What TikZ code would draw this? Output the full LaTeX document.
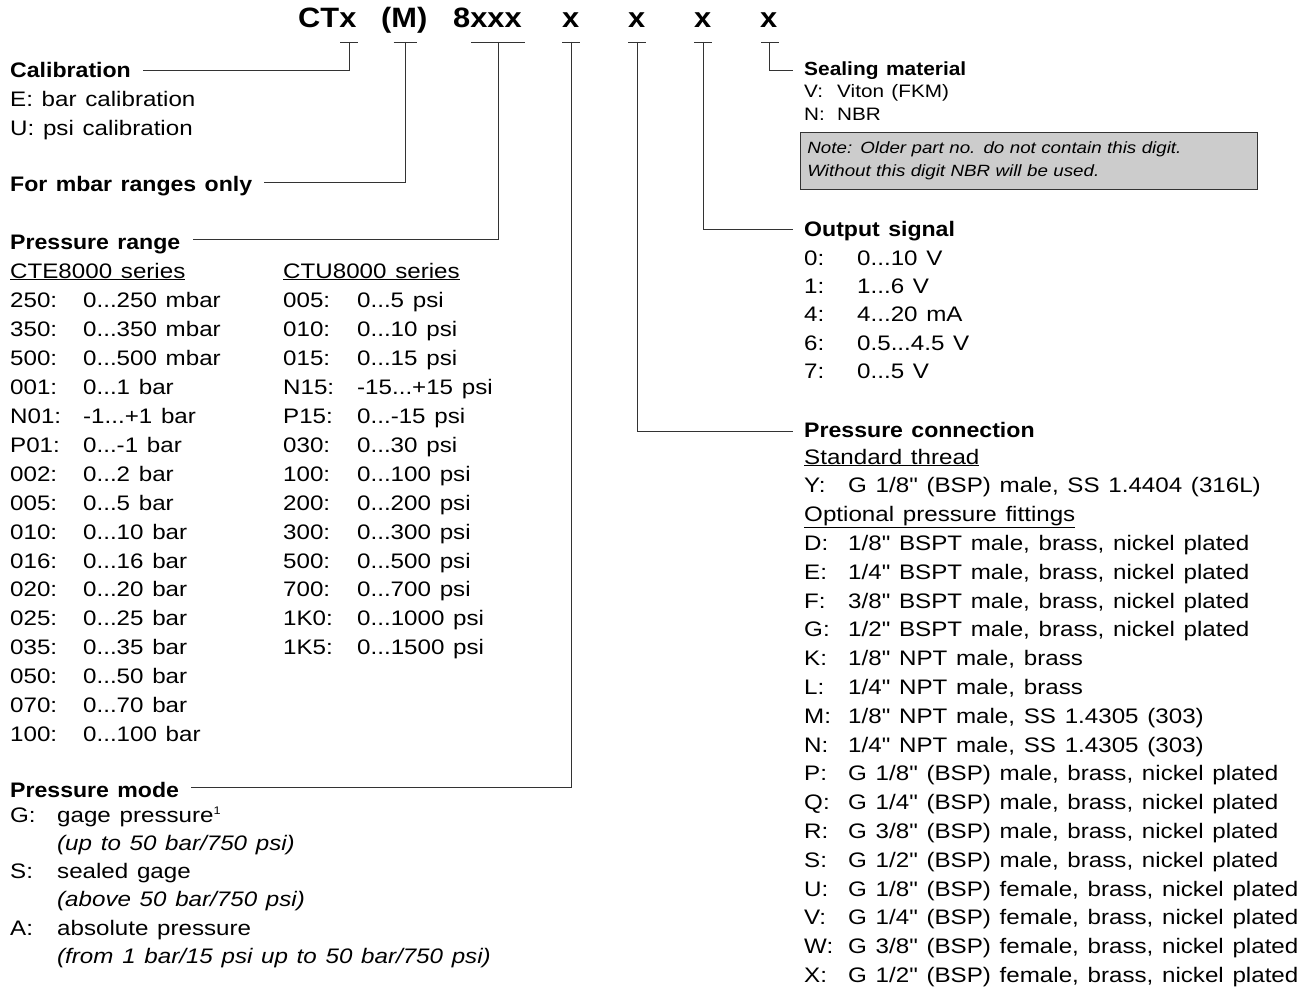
\documentclass[tikz,border=0pt]{standalone}
\usepackage{fontspec}
\setmainfont{Liberation Sans}[Ligatures=TeXOff, FakeStretch=1.15, WordSpace=1.3,
  BoldFeatures={FakeStretch=1.1}]
\usetikzlibrary{calc, positioning}

\tikzset{
  lead/.style={draw=black!80, line width=0.9pt},
  codehead/.style={font=\fontsize{28}{32}\selectfont\bfseries, inner sep=0pt, anchor=base west},
  heading/.style={font=\fontsize{21}{29}\selectfont\bfseries, inner sep=0pt, anchor=base west},
  body/.style={font=\fontsize{21}{28.9}\selectfont, inner sep=0pt, anchor=base west},
  smallhead/.style={font=\fontsize{19}{22}\selectfont\bfseries, inner sep=0pt, anchor=base west},
  smallbody/.style={font=\fontsize{18}{23}\selectfont, inner sep=0pt, anchor=base west},
  notebox/.style={draw=black!80, fill=black!20, line width=0.8pt, anchor=north west,
    font=\fontsize{16.3}{23}\selectfont\itshape, align=left, text width=443pt,
    minimum height=57pt, inner xsep=7pt, inner ysep=4pt},
}

\begin{document}
\begin{tikzpicture}[x=1pt, y=-1pt]
\useasboundingbox (0,0) rectangle (1305,987);

% Order code
\node[codehead] (cCT) at (298,28) {CTx};
\node[codehead] (cM) at (381,28) {(M)};
\node[codehead] (cRng) at (453,28) {8xxx};
\node[codehead] (cMod) at (562,28) {x};
\node[codehead] (cCon) at (628,28) {x};
\node[codehead] (cOut) at (694,28) {x};
\node[codehead] (cSea) at (760,28) {x};

% Tick points below the code
\coordinate (tCal) at (349,42);
\coordinate (tM) at (405,42);
\coordinate (tRng) at (498,42);
\coordinate (tMod) at (571,42);
\coordinate (tCon) at (637,42);
\coordinate (tOut) at (703,42);
\coordinate (tSea) at (769,42);

\draw[lead] ([xshift=-9pt]tCal) -- ([xshift=9pt]tCal);
\draw[lead] ([xshift=-11.5pt]tM) -- ([xshift=11.5pt]tM);
\draw[lead] ([xshift=-27pt]tRng) -- ([xshift=27pt]tRng);
\draw[lead] ([xshift=-9pt]tMod) -- ([xshift=9pt]tMod);
\draw[lead] ([xshift=-9pt]tCon) -- ([xshift=9pt]tCon);
\draw[lead] ([xshift=-9pt]tOut) -- ([xshift=9pt]tOut);
\draw[lead] ([xshift=-8pt]tSea) -- ([xshift=10pt]tSea);

% Left column
\node[heading] (calib) at (10,78) {Calibration};
\node[body] (calibList) at (10,107) {\begin{tabular}[t]{@{}l@{}}
E: bar calibration\\
U: psi calibration
\end{tabular}};

\node[heading] (mbar) at (10,192) {For mbar ranges only};

\node[heading] (range) at (10,249) {Pressure range};
\node[body] (cte) at (10,278) {\begin{tabular}[t]{@{}p{73pt}@{}l@{}}
\multicolumn{2}{@{}l@{}}{\underline{CTE8000 series}}\\[1pt]
250: & 0...250 mbar\\
350: & 0...350 mbar\\
500: & 0...500 mbar\\
001: & 0...1 bar\\
N01: & -1...+1 bar\\
P01: & 0...-1 bar\\
002: & 0...2 bar\\
005: & 0...5 bar\\
010: & 0...10 bar\\
016: & 0...16 bar\\
020: & 0...20 bar\\
025: & 0...25 bar\\
035: & 0...35 bar\\
050: & 0...50 bar\\
070: & 0...70 bar\\
100: & 0...100 bar
\end{tabular}};
\node[body] (ctu) at (283,278) {\begin{tabular}[t]{@{}p{74pt}@{}l@{}}
\multicolumn{2}{@{}l@{}}{\underline{CTU8000 series}}\\[1pt]
005: & 0...5 psi\\
010: & 0...10 psi\\
015: & 0...15 psi\\
N15: & -15...+15 psi\\
P15: & 0...-15 psi\\
030: & 0...30 psi\\
100: & 0...100 psi\\
200: & 0...200 psi\\
300: & 0...300 psi\\
500: & 0...500 psi\\
700: & 0...700 psi\\
1K0: & 0...1000 psi\\
1K5: & 0...1500 psi
\end{tabular}};

\node[heading] (mode) at (10,797) {Pressure mode};
\node[body, font=\fontsize{21}{28.3}\selectfont] (modeList) at (10,822) {\begin{tabular}[t]{@{}p{47pt}@{}l@{}}
G: & gage pressure\textsuperscript{\fontsize{11}{11}\selectfont 1}\\
 & \textit{(up to 50 bar/750 psi)}\\
S: & sealed gage\\
 & \textit{(above 50 bar/750 psi)}\\
A: & absolute pressure\\
 & \textit{(from 1 bar/15 psi up to 50 bar/750 psi)}
\end{tabular}};

% Right column
\node[smallhead] (seal) at (804,76) {Sealing material};
\node[smallbody] (sealList) at (804,98) {\begin{tabular}[t]{@{}p{33pt}@{}l@{}}
V: & Viton (FKM)\\
N: & NBR
\end{tabular}};
\node[notebox] (note) at (800,132) {Note: Older part no. do not contain this digit.\\
Without this digit NBR will be used.};

\node[heading] (out) at (804,236) {Output signal};
\node[body, font=\fontsize{21}{28.4}\selectfont] (outList) at (804,265) {\begin{tabular}[t]{@{}p{53pt}@{}l@{}}
0: & 0...10 V\\
1: & 1...6 V\\
4: & 4...20 mA\\
6: & 0.5...4.5 V\\
7: & 0...5 V
\end{tabular}};

\node[heading] (conn) at (804,437) {Pressure connection};
\node[body, font=\fontsize{21}{28.8}\selectfont] (connList) at (804,464) {\begin{tabular}[t]{@{}p{44pt}@{}l@{}}
\multicolumn{2}{@{}l@{}}{\underline{Standard thread}}\\
Y: & G 1/8" (BSP) male, SS 1.4404 (316L)\\
\multicolumn{2}{@{}l@{}}{\underline{Optional pressure fittings}}\\
D: & 1/8" BSPT male, brass, nickel plated\\
E: & 1/4" BSPT male, brass, nickel plated\\
F: & 3/8" BSPT male, brass, nickel plated\\
G: & 1/2" BSPT male, brass, nickel plated\\
K: & 1/8" NPT male, brass\\
L: & 1/4" NPT male, brass\\
M: & 1/8" NPT male, SS 1.4305 (303)\\
N: & 1/4" NPT male, SS 1.4305 (303)\\
P: & G 1/8" (BSP) male, brass, nickel plated\\
Q: & G 1/4" (BSP) male, brass, nickel plated\\
R: & G 3/8" (BSP) male, brass, nickel plated\\
S: & G 1/2" (BSP) male, brass, nickel plated\\
U: & G 1/8" (BSP) female, brass, nickel plated\\
V: & G 1/4" (BSP) female, brass, nickel plated\\
W: & G 3/8" (BSP) female, brass, nickel plated\\
X: & G 1/2" (BSP) female, brass, nickel plated
\end{tabular}};

% Leader lines
\draw[lead] (tCal) |- ([shift={(12pt,8pt)}]calib.base east);
\draw[lead] (tM) |- ([shift={(12pt,10pt)}]mbar.base east);
\draw[lead] (tRng) |- ([shift={(12pt,10pt)}]range.base east);
\draw[lead] (tMod) |- ([shift={(12pt,10pt)}]mode.base east);
\draw[lead] (tCon) |- ([shift={(-11pt,6pt)}]conn.base west);
\draw[lead] (tOut) |- ([shift={(-11pt,7pt)}]out.base west);
\draw[lead] (tSea) |- ([shift={(-11pt,6pt)}]seal.base west);
\end{tikzpicture}
\end{document}
